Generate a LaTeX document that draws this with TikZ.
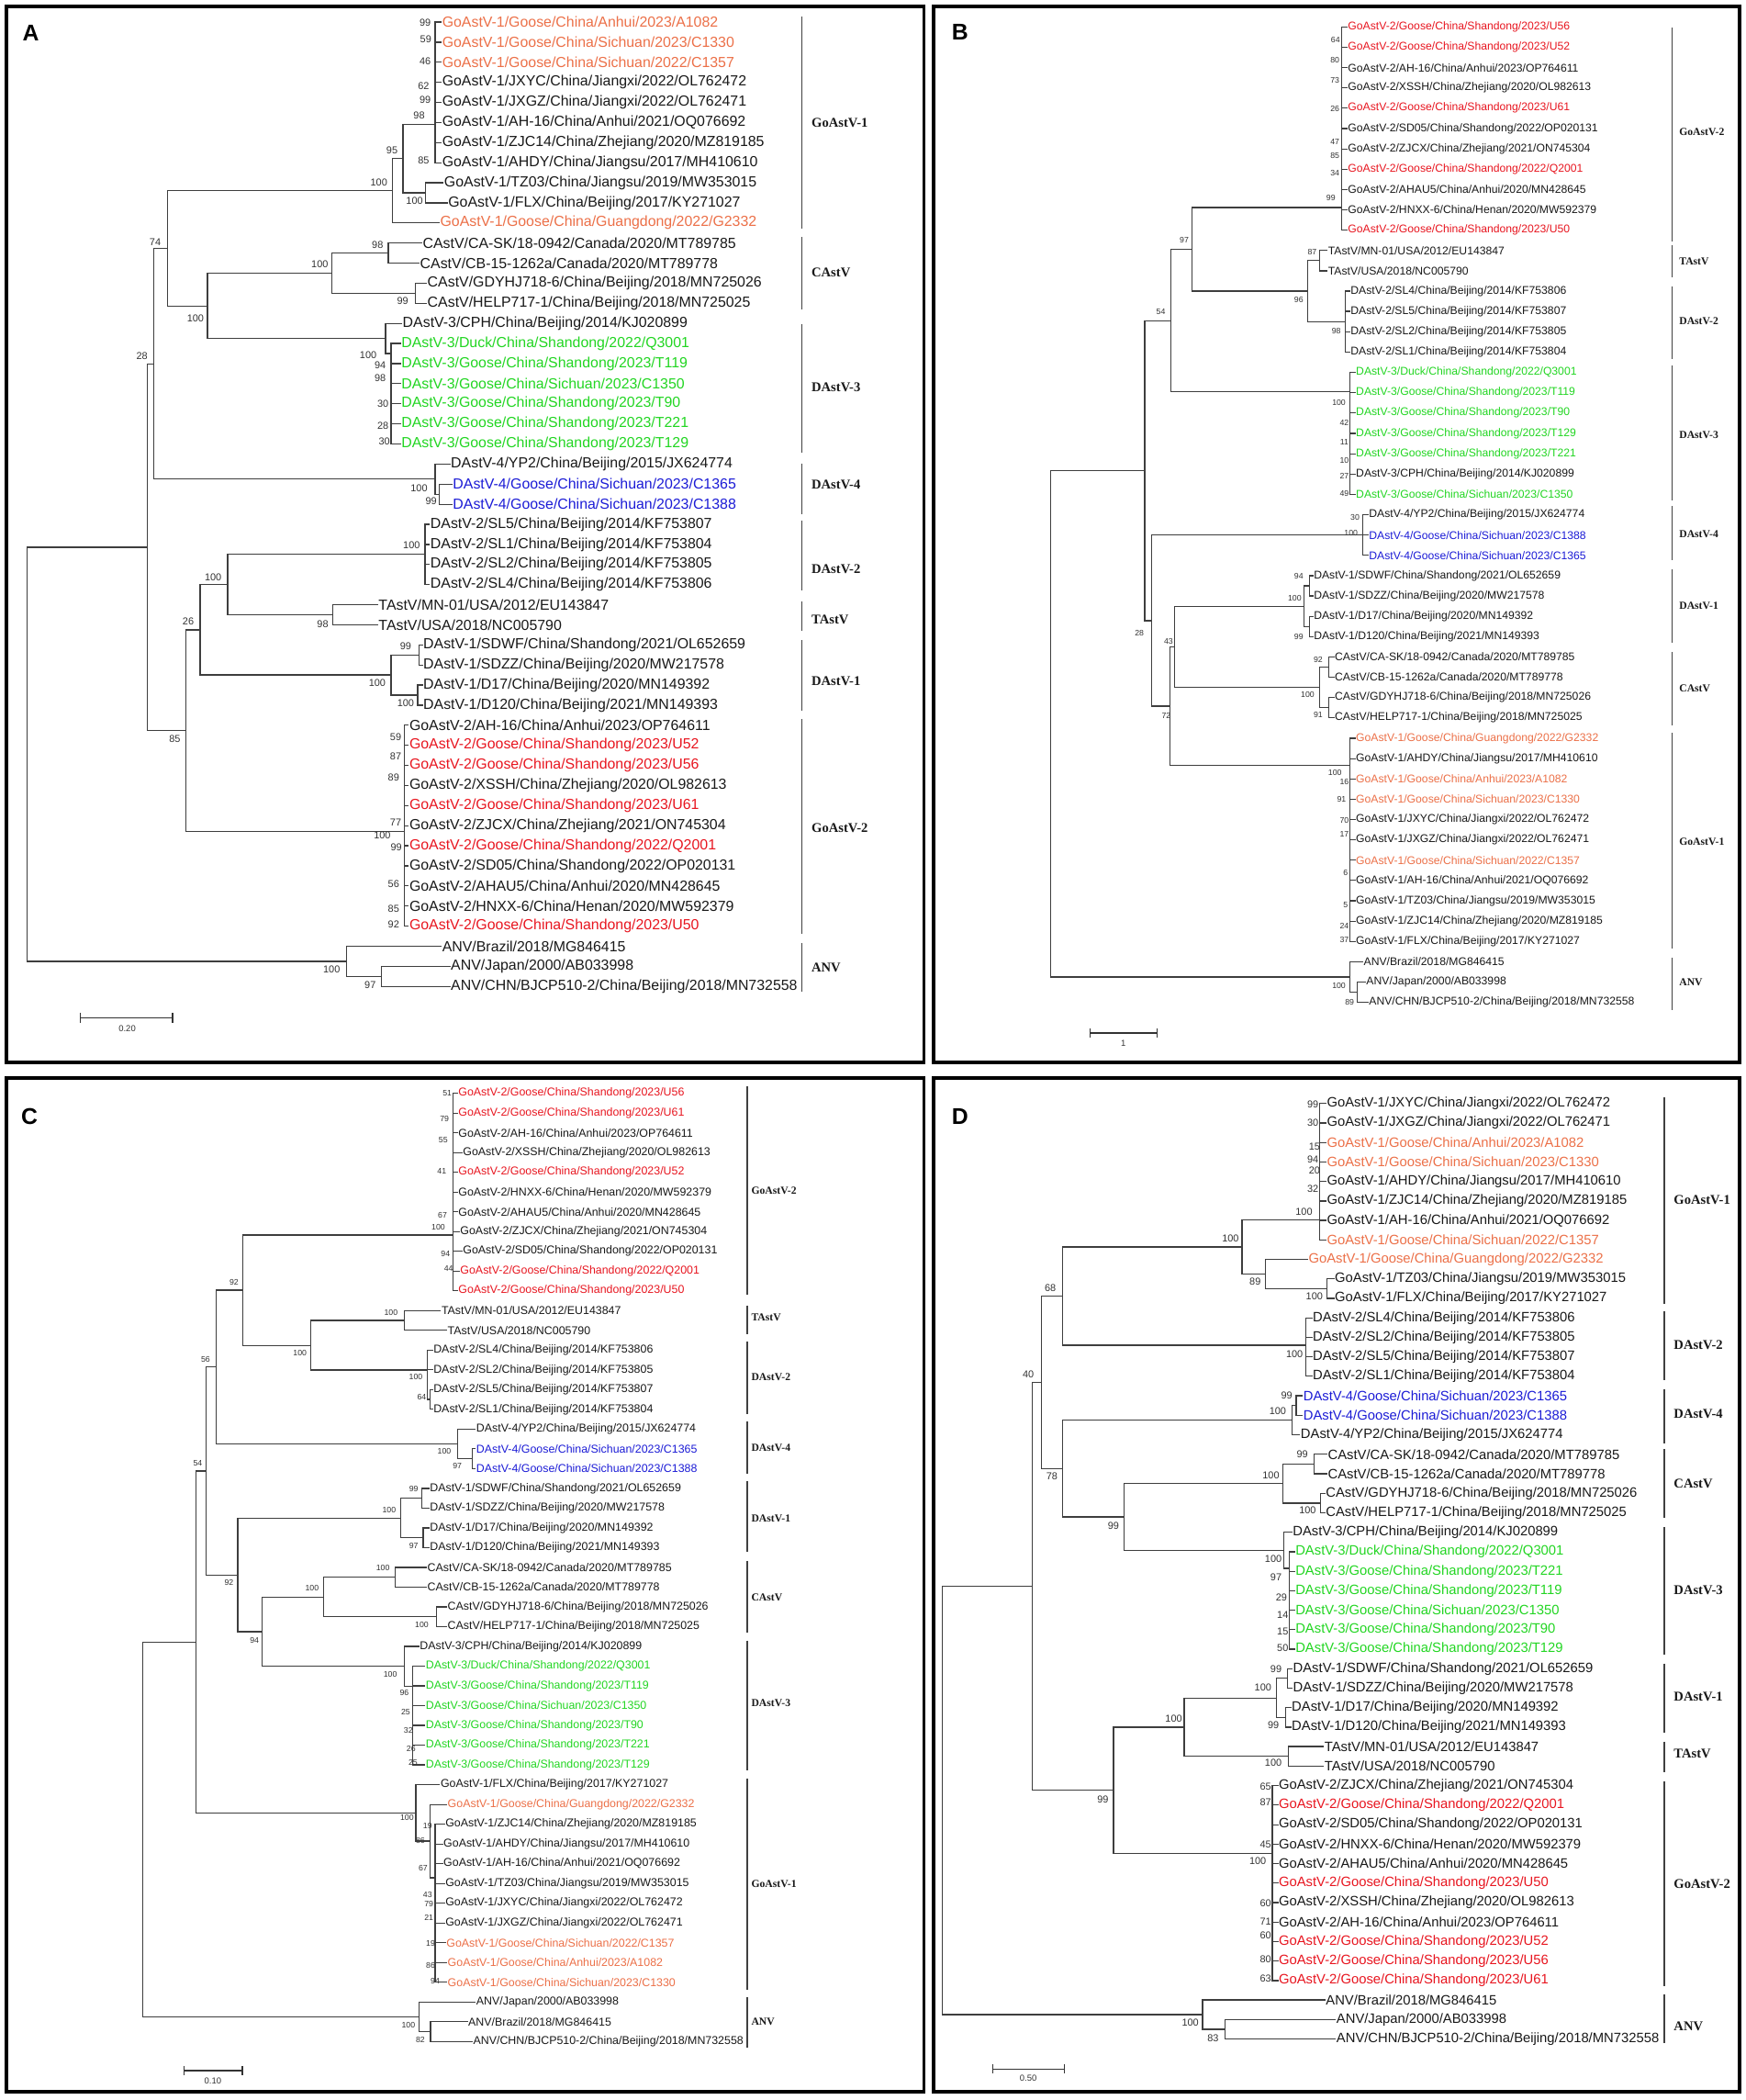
\documentclass[tikz,border=0pt]{standalone}
\usepackage{fontspec}
\setmainfont{Liberation Sans}
\newfontfamily\serifbf{Liberation Serif}
\definecolor{cOr}{RGB}{236,112,72}
\definecolor{cRd}{RGB}{232,22,32}
\definecolor{cGr}{RGB}{34,214,34}
\definecolor{cBl}{RGB}{28,28,214}
\definecolor{cK}{RGB}{25,25,25}
\definecolor{cLn}{RGB}{62,62,62}
\newcounter{bsc}
\newcommand\Vl[3]{\draw[br] (#1,#2) -- (#1,#3);}
\newcommand\Hl[3]{\draw[br] (#1,#3) -- (#2,#3);}
\newcommand\Lf[6]{\node[lf,text=#5] (#1) at (#3,#4) {#6};\draw[br] (#2,#4) -- (#1.west);}
\newcommand\Bs[3]{\stepcounter{bsc}\node[bsn] (bs\arabic{bsc}) at (#1,#2) {#3};}
\newcommand\Cl[7]{\draw[cbar] (#2,#3) -- (#2,#4);\node[cl] (#1) at (#5,#6) {#7};}
\tikzset{
 br/.style={draw=cLn, line width=0.85pt, line cap=rect},
 frm/.style={draw=black, line width=2.6pt},
 cbar/.style={draw=black!75, line width=0.9pt},
 lf/.style={anchor=west, inner xsep=0.6pt, inner ysep=0pt},
 bsn/.style={inner sep=0pt, text=black!80},
 cl/.style={anchor=west, inner sep=0pt, text=cK},
 plet/.style={inner sep=0pt, font=\bfseries\fontsize{17}{20}\selectfont},
 sb/.style={draw=black!80, line width=0.9pt},
 sbl/.style={inner sep=0pt, text=black!80, font=\fontsize{6.5}{7}\selectfont},
}
\begin{document}
\begin{tikzpicture}[x=1pt,y=-1pt]
\fill[white] (0,0) rectangle (1304,1568);
\useasboundingbox (0,0) rectangle (1304,1568);

%================ PANEL A ================
\begin{scope}[lf/.append style={font=\fontsize{10.9}{12}\selectfont},
 bsn/.append style={font=\fontsize{7.5}{8}\selectfont},
 cl/.append style={font=\serifbf\bfseries\fontsize{10}{12}\selectfont}]
\draw[frm] (5,5) rectangle (690,793);
\node[plet] (letA) at (23,25) {A};
% GoAstV-1
\Vl{325}{16.5}{121.5}
\Lf{a1}{325}{329.5}{16.5}{cOr}{GoAstV-1/Goose/China/Anhui/2023/A1082}
\Lf{a2}{325}{329.5}{31.5}{cOr}{GoAstV-1/Goose/China/Sichuan/2023/C1330}
\Lf{a3}{325}{329.5}{46.5}{cOr}{GoAstV-1/Goose/China/Sichuan/2022/C1357}
\Lf{a4}{325}{329.5}{61.5}{cK}{GoAstV-1/JXYC/China/Jiangxi/2022/OL762472}
\Lf{a5}{325}{329.5}{76.5}{cK}{GoAstV-1/JXGZ/China/Jiangxi/2022/OL762471}
\Lf{a6}{325}{329.5}{91.5}{cK}{GoAstV-1/AH-16/China/Anhui/2021/OQ076692}
\Lf{a7}{325}{329.5}{106.5}{cK}{GoAstV-1/ZJC14/China/Zhejiang/2020/MZ819185}
\Lf{a8}{325}{329.5}{121.5}{cK}{GoAstV-1/AHDY/China/Jiangsu/2017/MH410610}
\Vl{318}{136.5}{151.5}
\Lf{a9}{318}{331}{136.5}{cK}{GoAstV-1/TZ03/China/Jiangsu/2019/MW353015}
\Lf{a10}{318}{334}{151.5}{cK}{GoAstV-1/FLX/China/Beijing/2017/KY271027}
\Vl{301}{93}{144}\Hl{301}{325}{93}\Hl{301}{318}{144}
\Vl{293}{118.5}{166.5}\Hl{293}{301}{118.5}
\Lf{a11}{293}{328}{166.5}{cOr}{GoAstV-1/Goose/China/Guangdong/2022/G2332}
% CAstV
\Vl{290}{181.5}{196.5}
\Lf{a12}{290}{315}{181.5}{cK}{CAstV/CA-SK/18-0942/Canada/2020/MT789785}
\Lf{a13}{290}{313}{196.5}{cK}{CAstV/CB-15-1262a/Canada/2020/MT789778}
\Vl{310}{211.5}{226.5}
\Lf{a14}{310}{318.5}{211.5}{cK}{CAstV/GDYHJ718-6/China/Beijing/2018/MN725026}
\Lf{a15}{310}{318.5}{226.5}{cK}{CAstV/HELP717-1/China/Beijing/2018/MN725025}
\Vl{248}{189}{219}\Hl{248}{290}{189}\Hl{248}{310}{219}
% DAstV-3
\Vl{292}{256.5}{331.5}
\Lf{a17}{292}{299}{256.5}{cGr}{DAstV-3/Duck/China/Shandong/2022/Q3001}
\Lf{a18}{292}{299}{271.5}{cGr}{DAstV-3/Goose/China/Shandong/2023/T119}
\Lf{a19}{292}{299}{286.5}{cGr}{DAstV-3/Goose/China/Sichuan/2023/C1350}
\Lf{a20}{292}{299}{301.5}{cGr}{DAstV-3/Goose/China/Shandong/2023/T90}
\Lf{a21}{292}{299}{316.5}{cGr}{DAstV-3/Goose/China/Shandong/2023/T221}
\Lf{a22}{292}{299}{331.5}{cGr}{DAstV-3/Goose/China/Shandong/2023/T129}
\Vl{288}{241.5}{264}\Hl{288}{292}{264}
\Lf{a16}{288}{300}{241.5}{cK}{DAstV-3/CPH/China/Beijing/2014/KJ020899}
\Vl{155}{204}{252.75}\Hl{155}{248}{204}\Hl{155}{288}{252.75}
\Vl{125}{142.5}{228.4}\Hl{125}{293}{142.5}\Hl{125}{155}{228.4}
% DAstV-4
\Vl{328}{361.5}{376.5}
\Lf{a24}{328}{337.5}{361.5}{cBl}{DAstV-4/Goose/China/Sichuan/2023/C1365}
\Lf{a25}{328}{337.5}{376.5}{cBl}{DAstV-4/Goose/China/Sichuan/2023/C1388}
\Vl{325}{346.5}{369}\Hl{325}{328}{369}
\Lf{a23}{325}{336}{346.5}{cK}{DAstV-4/YP2/China/Beijing/2015/JX624774}
\Vl{115}{185.5}{357.75}\Hl{115}{125}{185.5}\Hl{115}{325}{357.75}
% DAstV-2
\Vl{317.5}{391.5}{436.5}
\Lf{a26}{317.5}{320.7}{391.5}{cK}{DAstV-2/SL5/China/Beijing/2014/KF753807}
\Lf{a27}{317.5}{320.7}{406.5}{cK}{DAstV-2/SL1/China/Beijing/2014/KF753804}
\Lf{a28}{317.5}{320.7}{421.5}{cK}{DAstV-2/SL2/China/Beijing/2014/KF753805}
\Lf{a29}{317.5}{320.7}{436.5}{cK}{DAstV-2/SL4/China/Beijing/2014/KF753806}
% TAstV
\Vl{248.5}{451.5}{466.5}
\Lf{a30}{248.5}{282}{451.5}{cK}{TAstV/MN-01/USA/2012/EU143847}
\Lf{a31}{248.5}{282}{466.5}{cK}{TAstV/USA/2018/NC005790}
\Vl{170}{414}{459}\Hl{170}{317.5}{414}\Hl{170}{248.5}{459}
% DAstV-1
\Vl{313}{481.5}{496.5}
\Lf{a32}{313}{315.4}{481.5}{cK}{DAstV-1/SDWF/China/Shandong/2021/OL652659}
\Lf{a33}{313}{315.4}{496.5}{cK}{DAstV-1/SDZZ/China/Beijing/2020/MW217578}
\Vl{312}{511.5}{526.5}
\Lf{a34}{312}{315.4}{511.5}{cK}{DAstV-1/D17/China/Beijing/2020/MN149392}
\Lf{a35}{312}{315.4}{526.5}{cK}{DAstV-1/D120/China/Beijing/2021/MN149393}
\Vl{292}{489}{519}\Hl{292}{313}{489}\Hl{292}{312}{519}
\Vl{149.5}{436.5}{504}\Hl{149.5}{170}{436.5}\Hl{149.5}{292}{504}
% GoAstV-2
\Vl{302}{541.5}{691.5}
\Lf{a36}{302}{305}{541.5}{cK}{GoAstV-2/AH-16/China/Anhui/2023/OP764611}
\Lf{a37}{302}{305}{556.5}{cRd}{GoAstV-2/Goose/China/Shandong/2023/U52}
\Lf{a38}{302}{305}{571.5}{cRd}{GoAstV-2/Goose/China/Shandong/2023/U56}
\Lf{a39}{302}{305}{586.5}{cK}{GoAstV-2/XSSH/China/Zhejiang/2020/OL982613}
\Lf{a40}{302}{305}{601.5}{cRd}{GoAstV-2/Goose/China/Shandong/2023/U61}
\Lf{a41}{302}{305}{616.5}{cK}{GoAstV-2/ZJCX/China/Zhejiang/2021/ON745304}
\Lf{a42}{302}{305}{631.5}{cRd}{GoAstV-2/Goose/China/Shandong/2022/Q2001}
\Lf{a43}{302}{305}{646.5}{cK}{GoAstV-2/SD05/China/Shandong/2022/OP020131}
\Lf{a44}{302}{305}{661.5}{cK}{GoAstV-2/AHAU5/China/Anhui/2020/MN428645}
\Lf{a45}{302}{305}{676.5}{cK}{GoAstV-2/HNXX-6/China/Henan/2020/MW592379}
\Lf{a46}{302}{305}{691.5}{cRd}{GoAstV-2/Goose/China/Shandong/2023/U50}
\Vl{139}{470.25}{621}\Hl{139}{149.5}{470.25}\Hl{139}{302}{621}
\Vl{110}{271.6}{545.6}\Hl{110}{115}{271.6}\Hl{110}{139}{545.6}
% ANV
\Vl{285}{721.5}{736.5}
\Lf{a48}{285}{336}{721.5}{cK}{ANV/Japan/2000/AB033998}
\Lf{a49}{285}{336}{736.5}{cK}{ANV/CHN/BJCP510-2/China/Beijing/2018/MN732558}
\Vl{259}{706.5}{729}\Hl{259}{285}{729}
\Lf{a47}{259}{329.5}{706.5}{cK}{ANV/Brazil/2018/MG846415}
\Vl{20}{408.6}{717.75}\Hl{20}{110}{408.6}\Hl{20}{259}{717.75}
% bootstraps
\Bs{317.6}{17.1}{99}\Bs{318}{29}{59}\Bs{317.6}{45.7}{46}\Bs{316.3}{64}{62}\Bs{317.6}{74.3}{99}
\Bs{313}{86.4}{98}\Bs{316.3}{120}{85}\Bs{292.8}{112}{95}\Bs{283}{136.4}{100}\Bs{309.6}{149.7}{100}
\Bs{282}{182.8}{98}\Bs{238.8}{197}{100}\Bs{300.7}{225}{99}\Bs{115.9}{180.5}{74}\Bs{146}{237.7}{100}\Bs{106}{266}{28}
\Bs{275}{265}{100}\Bs{284}{273}{94}\Bs{284}{282.3}{98}\Bs{286}{301.7}{30}\Bs{286}{317.7}{28}\Bs{287}{329.6}{30}
\Bs{313}{364.5}{100}\Bs{322}{374.4}{99}
\Bs{307.4}{407.3}{100}\Bs{241}{465.8}{98}\Bs{159.2}{430.8}{100}\Bs{140.6}{464}{26}
\Bs{303}{482.2}{99}\Bs{281.7}{510}{100}\Bs{303}{525}{100}\Bs{130.5}{552}{85}
\Bs{295.5}{550.3}{59}\Bs{295.5}{564.5}{87}\Bs{294}{580.5}{89}\Bs{295.5}{614}{77}\Bs{285.5}{623.5}{100}
\Bs{296}{632.5}{99}\Bs{294}{660}{56}\Bs{294}{678.3}{85}\Bs{294}{690.2}{92}
\Bs{247.7}{724}{100}\Bs{276.5}{735.4}{97}
% clades
\Cl{kA1}{599}{12.6}{171}{606}{91.4}{GoAstV-1}
\Cl{kA2}{599}{177}{231}{606}{203.4}{CAstV}
\Cl{kA3}{599}{242}{338}{606}{289}{DAstV-3}
\Cl{kA4}{599}{346}{384}{606}{362.2}{DAstV-4}
\Cl{kA5}{599}{388.5}{441}{606}{424.6}{DAstV-2}
\Cl{kA6}{599}{449}{471}{606}{462.8}{TAstV}
\Cl{kA7}{599}{478}{531}{606}{508.5}{DAstV-1}
\Cl{kA8}{599}{537}{697}{606}{618.2}{GoAstV-2}
\Cl{kA9}{599}{704}{740.5}{606}{722.2}{ANV}
% scale
\draw[sb] (60,760) -- (129,760);\draw[sb] (60,756.5) -- (60,763.5);\draw[sb] (129,756.5) -- (129,763.5);
\node[sbl] (sA) at (95,768) {0.20};
\end{scope}

%================ PANEL B ================
\begin{scope}[lf/.append style={font=\fontsize{8.35}{10}\selectfont},
 bsn/.append style={font=\fontsize{6}{7}\selectfont},
 cl/.append style={font=\serifbf\bfseries\fontsize{8}{10}\selectfont}]
\draw[frm] (697,5) rectangle (1299,793);
\node[plet] (letB) at (717,24) {B};
% GoAstV-2
\Vl{1002}{20.1}{171.9}\Hl{890.4}{1002}{155}
\Lf{b1}{1002}{1006}{20.1}{cRd}{GoAstV-2/Goose/China/Shandong/2023/U56}
\Lf{b2}{1002}{1006}{35.3}{cRd}{GoAstV-2/Goose/China/Shandong/2023/U52}
\Lf{b3}{1002}{1006}{50.5}{cK}{GoAstV-2/AH-16/China/Anhui/2023/OP764611}
\Lf{b4}{1002}{1006}{65.6}{cK}{GoAstV-2/XSSH/China/Zhejiang/2020/OL982613}
\Lf{b5}{1002}{1006}{80.8}{cRd}{GoAstV-2/Goose/China/Shandong/2023/U61}
\Lf{b6}{1002}{1006}{96.0}{cK}{GoAstV-2/SD05/China/Shandong/2022/OP020131}
\Lf{b7}{1002}{1006}{111.2}{cK}{GoAstV-2/ZJCX/China/Zhejiang/2021/ON745304}
\Lf{b8}{1002}{1006}{126.3}{cRd}{GoAstV-2/Goose/China/Shandong/2022/Q2001}
\Lf{b9}{1002}{1006}{141.5}{cK}{GoAstV-2/AHAU5/China/Anhui/2020/MN428645}
\Lf{b10}{1002}{1006}{156.7}{cK}{GoAstV-2/HNXX-6/China/Henan/2020/MW592379}
\Lf{b11}{1002}{1006}{171.9}{cRd}{GoAstV-2/Goose/China/Shandong/2023/U50}
% TAstV
\Vl{985.6}{187.0}{202.2}
\Lf{b12}{985.6}{991.2}{187.0}{cK}{TAstV/MN-01/USA/2012/EU143847}
\Lf{b13}{985.6}{991.2}{202.2}{cK}{TAstV/USA/2018/NC005790}
% DAstV-2
\Vl{1005}{217.4}{262.9}
\Lf{b14}{1005}{1008}{217.4}{cK}{DAstV-2/SL4/China/Beijing/2014/KF753806}
\Lf{b15}{1005}{1008}{232.5}{cK}{DAstV-2/SL5/China/Beijing/2014/KF753807}
\Lf{b16}{1005}{1008}{247.7}{cK}{DAstV-2/SL2/China/Beijing/2014/KF753805}
\Lf{b17}{1005}{1008}{262.9}{cK}{DAstV-2/SL1/China/Beijing/2014/KF753804}
\Vl{976.6}{194.6}{240.2}\Hl{976.6}{985.6}{194.6}\Hl{976.6}{1005}{240.2}
\Vl{890.4}{155}{217.4}\Hl{890.4}{976.6}{217.4}
% DAstV-3
\Vl{1008}{278.1}{369.1}
\Lf{b18}{1008}{1012}{278.1}{cGr}{DAstV-3/Duck/China/Shandong/2022/Q3001}
\Lf{b19}{1008}{1012}{293.2}{cGr}{DAstV-3/Goose/China/Shandong/2023/T119}
\Lf{b20}{1008}{1012}{308.4}{cGr}{DAstV-3/Goose/China/Shandong/2023/T90}
\Lf{b21}{1008}{1012}{323.6}{cGr}{DAstV-3/Goose/China/Shandong/2023/T129}
\Lf{b22}{1008}{1012}{338.8}{cGr}{DAstV-3/Goose/China/Shandong/2023/T221}
\Lf{b23}{1008}{1012}{354.0}{cK}{DAstV-3/CPH/China/Beijing/2014/KJ020899}
\Lf{b24}{1008}{1012}{369.1}{cGr}{DAstV-3/Goose/China/Sichuan/2023/C1350}
\Vl{874.7}{186.2}{292.5}\Hl{874.7}{890.4}{186.2}\Hl{874.7}{1008}{292.5}
% DAstV-4
\Vl{1018}{384.3}{414.6}
\Lf{b25}{1018}{1021.7}{384.3}{cK}{DAstV-4/YP2/China/Beijing/2015/JX624774}
\Lf{b26}{1018}{1021.7}{399.5}{cBl}{DAstV-4/Goose/China/Sichuan/2023/C1388}
\Lf{b27}{1018}{1021.7}{414.6}{cBl}{DAstV-4/Goose/China/Sichuan/2023/C1365}
% DAstV-1
\Vl{978}{429.8}{445.0}\Vl{978}{460.2}{475.3}
\Vl{974}{437.4}{467.7}\Hl{974}{978}{437.4}\Hl{974}{978}{467.7}
\Lf{b28}{978}{980.5}{429.8}{cK}{DAstV-1/SDWF/China/Shandong/2021/OL652659}
\Lf{b29}{978}{980.5}{445.0}{cK}{DAstV-1/SDZZ/China/Beijing/2020/MW217578}
\Lf{b30}{978}{980.5}{460.2}{cK}{DAstV-1/D17/China/Beijing/2020/MN149392}
\Lf{b31}{978}{980.5}{475.3}{cK}{DAstV-1/D120/China/Beijing/2021/MN149393}
% CAstV
\Vl{992.3}{490.5}{505.7}\Vl{992.3}{520.9}{536.0}
\Vl{985.6}{498.1}{528.4}\Hl{985.6}{992.3}{498.1}\Hl{985.6}{992.3}{528.4}
\Lf{b32}{992.3}{996.2}{490.5}{cK}{CAstV/CA-SK/18-0942/Canada/2020/MT789785}
\Lf{b33}{992.3}{996.2}{505.7}{cK}{CAstV/CB-15-1262a/Canada/2020/MT789778}
\Lf{b34}{992.3}{996.2}{520.9}{cK}{CAstV/GDYHJ718-6/China/Beijing/2018/MN725026}
\Lf{b35}{992.3}{996.2}{536.0}{cK}{CAstV/HELP717-1/China/Beijing/2018/MN725025}
\Vl{877}{452.6}{513.3}\Hl{877}{974}{452.6}\Hl{877}{985.6}{513.3}
% GoAstV-1
\Vl{1008}{551.2}{702.9}
\Lf{b36}{1008}{1012}{551.2}{cOr}{GoAstV-1/Goose/China/Guangdong/2022/G2332}
\Lf{b37}{1008}{1012}{566.4}{cK}{GoAstV-1/AHDY/China/Jiangsu/2017/MH410610}
\Lf{b38}{1008}{1012}{581.6}{cOr}{GoAstV-1/Goose/China/Anhui/2023/A1082}
\Lf{b39}{1008}{1012}{596.7}{cOr}{GoAstV-1/Goose/China/Sichuan/2023/C1330}
\Lf{b40}{1008}{1012}{611.9}{cK}{GoAstV-1/JXYC/China/Jiangxi/2022/OL762472}
\Lf{b41}{1008}{1012}{627.1}{cK}{GoAstV-1/JXGZ/China/Jiangxi/2022/OL762471}
\Lf{b42}{1008}{1012}{642.3}{cOr}{GoAstV-1/Goose/China/Sichuan/2022/C1357}
\Lf{b43}{1008}{1012}{657.4}{cK}{GoAstV-1/AH-16/China/Anhui/2021/OQ076692}
\Lf{b44}{1008}{1012}{672.6}{cK}{GoAstV-1/TZ03/China/Jiangsu/2019/MW353015}
\Lf{b45}{1008}{1012}{687.8}{cK}{GoAstV-1/ZJC14/China/Zhejiang/2020/MZ819185}
\Lf{b46}{1008}{1012}{702.9}{cK}{GoAstV-1/FLX/China/Beijing/2017/KY271027}
\Vl{874}{483}{571.4}\Hl{874}{877}{483}\Hl{874}{1008}{571.4}
\Vl{860}{399.5}{527.2}\Hl{860}{1018}{399.5}\Hl{860}{874}{527.2}
\Vl{855}{239.4}{463.4}\Hl{855}{874.7}{239.4}\Hl{855}{860}{463.4}
% ANV
\Vl{1013.8}{733.3}{748.5}\Vl{1008}{718.1}{740.9}\Hl{1008}{1013.8}{740.9}
\Lf{b47}{1008}{1017.8}{718.1}{cK}{ANV/Brazil/2018/MG846415}
\Lf{b48}{1013.8}{1019.7}{733.3}{cK}{ANV/Japan/2000/AB033998}
\Lf{b49}{1013.8}{1021.7}{748.5}{cK}{ANV/CHN/BJCP510-2/China/Beijing/2018/MN732558}
\Vl{784.5}{351.4}{729.5}\Hl{784.5}{855}{351.4}\Hl{784.5}{1008}{729.5}
% bootstraps
\Bs{997.4}{29.7}{64}\Bs{997}{44.6}{80}\Bs{997}{59.9}{73}\Bs{997}{81}{26}\Bs{997}{106}{47}
\Bs{997}{116}{85}\Bs{997}{129}{34}\Bs{994}{148}{99}
\Bs{884.5}{179.4}{97}\Bs{980}{188.5}{87}\Bs{970}{224}{96}\Bs{998}{247}{98}\Bs{867}{233}{54}
\Bs{1000}{300.5}{100}\Bs{1004}{315.4}{42}\Bs{1004}{330}{11}\Bs{1004}{344}{10}\Bs{1004}{355.4}{27}\Bs{1004}{368.4}{49}
\Bs{1012}{386}{30}\Bs{1009}{398}{100}
\Bs{851}{472.4}{28}
\Bs{970}{430}{94}\Bs{967}{446.8}{100}\Bs{970}{475.4}{99}
\Bs{872.7}{478.8}{43}
\Bs{984.5}{492.5}{92}\Bs{976.6}{518.8}{100}\Bs{984.5}{533.6}{91}
\Bs{871}{534.3}{72}
\Bs{997}{577}{100}\Bs{1004}{584}{16}\Bs{1002}{597}{91}\Bs{1004}{612.5}{70}\Bs{1004}{622.8}{17}
\Bs{1005}{651.4}{6}\Bs{1005}{676}{5}\Bs{1004}{691.3}{24}\Bs{1004}{701.6}{37}
\Bs{1000}{736}{100}\Bs{1008}{748.5}{89}
% clades
\Cl{kB1}{1249}{20.6}{180.5}{1254}{98.3}{GoAstV-2}
\Cl{kB2}{1249}{183}{207}{1254}{195.4}{TAstV}
\Cl{kB3}{1249}{213.7}{268}{1254}{240}{DAstV-2}
\Cl{kB4}{1249}{273}{373.7}{1254}{324.5}{DAstV-3}
\Cl{kB5}{1249}{378}{418.2}{1254}{398.8}{DAstV-4}
\Cl{kB6}{1249}{425}{480}{1254}{452.5}{DAstV-1}
\Cl{kB7}{1249}{486.8}{541.7}{1254}{514}{CAstV}
\Cl{kB8}{1249}{547.4}{708.5}{1254}{628.5}{GoAstV-1}
\Cl{kB9}{1249}{715.3}{754.2}{1254}{733.6}{ANV}
% scale
\draw[sb] (814,771.4) -- (864,771.4);\draw[sb] (814,768) -- (814,775);\draw[sb] (864,768) -- (864,775);
\node[sbl] (sB) at (839,779) {1};
\end{scope}

%================ PANEL C ================
\begin{scope}[lf/.append style={font=\fontsize{8.5}{10}\selectfont},
 bsn/.append style={font=\fontsize{6}{7}\selectfont},
 cl/.append style={font=\serifbf\bfseries\fontsize{8}{10}\selectfont}]
\draw[frm] (5,805) rectangle (690,1562);
\node[plet] (letC) at (22,834) {C};
% GoAstV-2
\Vl{338.5}{816.3}{963.8}\Hl{181.4}{338.5}{922.1}
\Lf{c1}{338.5}{341.6}{816.3}{cRd}{GoAstV-2/Goose/China/Shandong/2023/U56}
\Lf{c2}{338.5}{341.6}{831.05}{cRd}{GoAstV-2/Goose/China/Shandong/2023/U61}
\Lf{c3}{338.5}{341.6}{845.8}{cK}{GoAstV-2/AH-16/China/Anhui/2023/OP764611}
\Lf{c4}{338.5}{345}{860.55}{cK}{GoAstV-2/XSSH/China/Zhejiang/2020/OL982613}
\Lf{c5}{338.5}{341.6}{875.3}{cRd}{GoAstV-2/Goose/China/Shandong/2023/U52}
\Lf{c6}{338.5}{341.6}{890.05}{cK}{GoAstV-2/HNXX-6/China/Henan/2020/MW592379}
\Lf{c7}{338.5}{341.6}{904.8}{cK}{GoAstV-2/AHAU5/China/Anhui/2020/MN428645}
\Lf{c8}{338.5}{343}{919.55}{cK}{GoAstV-2/ZJCX/China/Zhejiang/2021/ON745304}
\Lf{c9}{338.5}{345}{934.3}{cK}{GoAstV-2/SD05/China/Shandong/2022/OP020131}
\Lf{c10}{338.5}{343}{949.05}{cRd}{GoAstV-2/Goose/China/Shandong/2022/Q2001}
\Lf{c11}{338.5}{341.6}{963.8}{cRd}{GoAstV-2/Goose/China/Shandong/2023/U50}
% TAstV
\Vl{302}{978.55}{993.3}
\Lf{c12}{302}{329}{978.55}{cK}{TAstV/MN-01/USA/2012/EU143847}
\Lf{c13}{302}{333.6}{993.3}{cK}{TAstV/USA/2018/NC005790}
% DAstV-2
\Vl{321}{1037.55}{1052.3}\Vl{319.4}{1008.05}{1044.9}\Hl{319.4}{321}{1044.9}
\Lf{c14}{319.4}{323}{1008.05}{cK}{DAstV-2/SL4/China/Beijing/2014/KF753806}
\Lf{c15}{319.4}{323}{1022.8}{cK}{DAstV-2/SL2/China/Beijing/2014/KF753805}
\Lf{c16}{321}{323}{1037.55}{cK}{DAstV-2/SL5/China/Beijing/2014/KF753807}
\Lf{c17}{321}{323}{1052.3}{cK}{DAstV-2/SL1/China/Beijing/2014/KF753804}
\Vl{232.3}{985.9}{1023}\Hl{232.3}{302}{985.9}\Hl{232.3}{319.4}{1023}
\Vl{181.4}{922.1}{1004.5}\Hl{181.4}{232.3}{1004.5}
% DAstV-4
\Vl{352.7}{1081.8}{1096.55}\Vl{341.6}{1067.05}{1089.2}\Hl{341.6}{352.7}{1089.2}
\Lf{c18}{341.6}{355}{1067.05}{cK}{DAstV-4/YP2/China/Beijing/2015/JX624774}
\Lf{c19}{352.7}{355}{1081.8}{cBl}{DAstV-4/Goose/China/Sichuan/2023/C1365}
\Lf{c20}{352.7}{355}{1096.55}{cBl}{DAstV-4/Goose/China/Sichuan/2023/C1388}
\Vl{161.5}{963.3}{1078.1}\Hl{161.5}{181.4}{963.3}\Hl{161.5}{341.6}{1078.1}
% DAstV-1
\Vl{315}{1111.3}{1126.05}\Vl{316}{1140.8}{1155.55}
\Vl{299.5}{1118.7}{1148.2}\Hl{299.5}{315}{1118.7}\Hl{299.5}{316}{1148.2}
\Lf{c21}{315}{320.3}{1111.3}{cK}{DAstV-1/SDWF/China/Shandong/2021/OL652659}
\Lf{c22}{315}{320.3}{1126.05}{cK}{DAstV-1/SDZZ/China/Beijing/2020/MW217578}
\Lf{c23}{316}{320.3}{1140.8}{cK}{DAstV-1/D17/China/Beijing/2020/MN149392}
\Lf{c24}{316}{320.3}{1155.55}{cK}{DAstV-1/D120/China/Beijing/2021/MN149393}
% CAstV
\Vl{295}{1170.3}{1185.05}\Vl{326}{1199.8}{1214.55}
\Vl{241.8}{1177.7}{1207.2}\Hl{241.8}{295}{1177.7}\Hl{241.8}{326}{1207.2}
\Lf{c25}{295}{318.5}{1170.3}{cK}{CAstV/CA-SK/18-0942/Canada/2020/MT789785}
\Lf{c26}{295}{318.5}{1185.05}{cK}{CAstV/CB-15-1262a/Canada/2020/MT789778}
\Lf{c27}{326}{333.6}{1199.8}{cK}{CAstV/GDYHJ718-6/China/Beijing/2018/MN725026}
\Lf{c28}{326}{333.6}{1214.55}{cK}{CAstV/HELP717-1/China/Beijing/2018/MN725025}
% DAstV-3
\Vl{308.3}{1244.05}{1317.8}\Vl{302}{1229.3}{1259}\Hl{302}{308.3}{1259}
\Lf{c29}{302}{312.8}{1229.3}{cK}{DAstV-3/CPH/China/Beijing/2014/KJ020899}
\Lf{c30}{308.3}{317.2}{1244.05}{cGr}{DAstV-3/Duck/China/Shandong/2022/Q3001}
\Lf{c31}{308.3}{317.2}{1258.8}{cGr}{DAstV-3/Goose/China/Shandong/2023/T119}
\Lf{c32}{308.3}{317.2}{1273.55}{cGr}{DAstV-3/Goose/China/Sichuan/2023/C1350}
\Lf{c33}{308.3}{317.2}{1288.3}{cGr}{DAstV-3/Goose/China/Shandong/2023/T90}
\Lf{c34}{308.3}{317.2}{1303.05}{cGr}{DAstV-3/Goose/China/Shandong/2023/T221}
\Lf{c35}{308.3}{317.2}{1317.8}{cGr}{DAstV-3/Goose/China/Shandong/2023/T129}
\Vl{196}{1192.4}{1244.2}\Hl{196}{241.8}{1192.4}\Hl{196}{302}{1244.2}
\Vl{177.5}{1133.45}{1218.3}\Hl{177.5}{299.5}{1133.45}\Hl{177.5}{196}{1218.3}
\Vl{154}{1020.7}{1175.9}\Hl{154}{161.5}{1020.7}\Hl{154}{177.5}{1175.9}
% GoAstV-1
\Vl{325}{1362.05}{1480.05}\Vl{321}{1347.3}{1402}\Hl{321}{325}{1402}
\Vl{310.6}{1332.55}{1374.65}\Hl{310.6}{321}{1374.65}
\Lf{c36}{310.6}{328.3}{1332.55}{cK}{GoAstV-1/FLX/China/Beijing/2017/KY271027}
\Lf{c37}{321}{333.6}{1347.3}{cOr}{GoAstV-1/Goose/China/Guangdong/2022/G2332}
\Lf{c38}{325}{331.9}{1362.05}{cK}{GoAstV-1/ZJC14/China/Zhejiang/2020/MZ819185}
\Lf{c39}{325}{330.5}{1376.8}{cK}{GoAstV-1/AHDY/China/Jiangsu/2017/MH410610}
\Lf{c40}{325}{330.5}{1391.55}{cK}{GoAstV-1/AH-16/China/Anhui/2021/OQ076692}
\Lf{c41}{325}{331.9}{1406.3}{cK}{GoAstV-1/TZ03/China/Jiangsu/2019/MW353015}
\Lf{c42}{325}{331.9}{1421.05}{cK}{GoAstV-1/JXYC/China/Jiangxi/2022/OL762472}
\Lf{c43}{325}{331.9}{1435.8}{cK}{GoAstV-1/JXGZ/China/Jiangxi/2022/OL762471}
\Lf{c44}{325}{332.7}{1450.55}{cOr}{GoAstV-1/Goose/China/Sichuan/2022/C1357}
\Lf{c45}{325}{333.6}{1465.3}{cOr}{GoAstV-1/Goose/China/Anhui/2023/A1082}
\Lf{c46}{325}{333.6}{1480.05}{cOr}{GoAstV-1/Goose/China/Sichuan/2023/C1330}
\Vl{146.4}{1098.3}{1353.6}\Hl{146.4}{154}{1098.3}\Hl{146.4}{310.6}{1353.6}
% ANV
\Vl{321.6}{1509.55}{1524.3}\Vl{312.8}{1494.8}{1516.9}\Hl{312.8}{321.6}{1516.9}
\Lf{c47}{312.8}{355}{1494.8}{cK}{ANV/Japan/2000/AB033998}
\Lf{c48}{321.6}{349}{1509.55}{cK}{ANV/Brazil/2018/MG846415}
\Lf{c49}{321.6}{352.7}{1524.3}{cK}{ANV/CHN/BJCP510-2/China/Beijing/2018/MN732558}
\Vl{106.5}{1226}{1505.9}\Hl{106.5}{146.4}{1226}\Hl{106.5}{312.8}{1505.9}
% bootstraps
\Bs{334}{816.3}{51}\Bs{332}{835.3}{79}\Bs{331}{851.3}{55}\Bs{330}{874.8}{41}\Bs{330.5}{907.3}{67}
\Bs{327.4}{916.4}{100}\Bs{332.7}{936.5}{94}\Bs{335}{947.3}{44}
\Bs{174.8}{957.5}{92}\Bs{292}{980}{100}\Bs{224}{1010}{100}\Bs{310.6}{1028.4}{100}\Bs{315}{1043}{64}\Bs{153.5}{1014.7}{56}
\Bs{331.8}{1083.7}{100}\Bs{341.6}{1094.7}{97}\Bs{147.7}{1092.4}{54}
\Bs{309}{1111.8}{99}\Bs{290.6}{1127.8}{100}\Bs{309}{1154.5}{97}\Bs{171}{1181.5}{92}
\Bs{286}{1171}{100}\Bs{233}{1186}{100}\Bs{315}{1213.5}{100}\Bs{190}{1225}{94}
\Bs{291.5}{1250}{100}\Bs{302}{1264.2}{96}\Bs{303}{1278.6}{25}\Bs{305}{1292.3}{32}\Bs{307}{1306}{26}\Bs{308.5}{1316.3}{25}
\Bs{304}{1357}{100}\Bs{319.4}{1363.1}{19}\Bs{314}{1374.6}{86}\Bs{316}{1395.1}{67}\Bs{319.4}{1414.6}{43}
\Bs{320.3}{1421.9}{79}\Bs{320.3}{1431.7}{21}\Bs{321.6}{1451.1}{19}\Bs{321.6}{1467.6}{86}\Bs{325}{1479}{94}
\Bs{305}{1512}{100}\Bs{314}{1523}{82}
% clades
\Cl{kC1}{558}{811.3}{966.7}{561}{889}{GoAstV-2}
\Cl{kC2}{558}{974.7}{996.4}{561}{984}{TAstV}
\Cl{kC3}{558}{1002}{1055.8}{561}{1028.4}{DAstV-2}
\Cl{kC4}{558}{1061.5}{1100.4}{561}{1081}{DAstV-4}
\Cl{kC5}{558}{1106}{1158.6}{561}{1133.5}{DAstV-1}
\Cl{kC6}{558}{1165.5}{1219}{561}{1193}{CAstV}
\Cl{kC7}{558}{1225}{1322}{561}{1271.8}{DAstV-3}
\Cl{kC8}{558}{1327.7}{1485.4}{561}{1406.6}{GoAstV-1}
\Cl{kC9}{558}{1491}{1528.8}{561}{1509.4}{ANV}
% scale
\draw[sb] (137.5,1546) -- (181,1546);\draw[sb] (137.5,1542.5) -- (137.5,1549.5);\draw[sb] (181,1542.5) -- (181,1549.5);
\node[sbl] (sC) at (159,1554) {0.10};
\end{scope}

%================ PANEL D ================
\begin{scope}[lf/.append style={font=\fontsize{10.15}{12}\selectfont},
 bsn/.append style={font=\fontsize{7.5}{8}\selectfont},
 cl/.append style={font=\serifbf\bfseries\fontsize{10}{12}\selectfont}]
\draw[frm] (697,805) rectangle (1299,1562);
\node[plet] (letD) at (717,834) {D};
% GoAstV-1
\Vl{985.6}{823.9}{925.8}
\Lf{d1}{985.6}{990.3}{823.9}{cK}{GoAstV-1/JXYC/China/Jiangxi/2022/OL762472}
\Lf{d2}{985.6}{990.3}{838.45}{cK}{GoAstV-1/JXGZ/China/Jiangxi/2022/OL762471}
\Lf{d3}{985.6}{990.3}{853.0}{cOr}{GoAstV-1/Goose/China/Anhui/2023/A1082}
\Lf{d4}{985.6}{990.3}{867.6}{cOr}{GoAstV-1/Goose/China/Sichuan/2023/C1330}
\Lf{d5}{985.6}{990.3}{882.1}{cK}{GoAstV-1/AHDY/China/Jiangsu/2017/MH410610}
\Lf{d6}{985.6}{990.3}{896.7}{cK}{GoAstV-1/ZJC14/China/Zhejiang/2020/MZ819185}
\Lf{d7}{985.6}{990.3}{911.2}{cK}{GoAstV-1/AH-16/China/Anhui/2021/OQ076692}
\Lf{d8}{985.6}{990.3}{925.8}{cOr}{GoAstV-1/Goose/China/Sichuan/2022/C1357}
\Vl{991.1}{954.9}{969.4}
\Lf{d10}{991.1}{996.2}{954.9}{cK}{GoAstV-1/TZ03/China/Jiangsu/2019/MW353015}
\Lf{d11}{991.1}{996.2}{969.4}{cK}{GoAstV-1/FLX/China/Beijing/2017/KY271027}
\Vl{945.2}{940.3}{962.2}\Hl{945.2}{991.1}{962.2}
\Lf{d9}{945.2}{976.6}{940.3}{cOr}{GoAstV-1/Goose/China/Guangdong/2022/G2332}
\Vl{927.6}{910.7}{951.2}\Hl{927.6}{985.6}{910.7}\Hl{927.6}{945.2}{951.2}
% DAstV-2
\Vl{975.4}{984.0}{1027.6}
\Lf{d12}{975.4}{979.7}{984.0}{cK}{DAstV-2/SL4/China/Beijing/2014/KF753806}
\Lf{d13}{975.4}{979.7}{998.5}{cK}{DAstV-2/SL2/China/Beijing/2014/KF753805}
\Lf{d14}{975.4}{979.7}{1013.1}{cK}{DAstV-2/SL5/China/Beijing/2014/KF753807}
\Lf{d15}{975.4}{979.7}{1027.6}{cK}{DAstV-2/SL1/China/Beijing/2014/KF753804}
\Vl{793.5}{931}{1004.4}\Hl{793.5}{927.6}{931}\Hl{793.5}{975.4}{1004.4}
% DAstV-4
\Vl{968}{1042.2}{1056.7}\Vl{965}{1049.5}{1071.3}\Hl{965}{968}{1049.5}
\Lf{d16}{968}{972.7}{1042.2}{cBl}{DAstV-4/Goose/China/Sichuan/2023/C1365}
\Lf{d17}{968}{972.7}{1056.7}{cBl}{DAstV-4/Goose/China/Sichuan/2023/C1388}
\Lf{d18}{965}{970.7}{1071.3}{cK}{DAstV-4/YP2/China/Beijing/2015/JX624774}
% CAstV
\Vl{981.7}{1085.9}{1100.4}\Vl{986.4}{1115.0}{1129.5}
\Vl{958.2}{1093.2}{1122.3}\Hl{958.2}{981.7}{1093.2}\Hl{958.2}{986.4}{1122.3}
\Lf{d19}{981.7}{991}{1085.9}{cK}{CAstV/CA-SK/18-0942/Canada/2020/MT789785}
\Lf{d20}{981.7}{991}{1100.4}{cK}{CAstV/CB-15-1262a/Canada/2020/MT789778}
\Lf{d21}{986.4}{989.5}{1115.0}{cK}{CAstV/GDYHJ718-6/China/Beijing/2018/MN725026}
\Lf{d22}{986.4}{989.5}{1129.5}{cK}{CAstV/HELP717-1/China/Beijing/2018/MN725025}
% DAstV-3
\Vl{962.9}{1158.6}{1231.4}\Vl{959}{1144.1}{1171}\Hl{959}{962.9}{1171}
\Lf{d23}{959}{964.8}{1144.1}{cK}{DAstV-3/CPH/China/Beijing/2014/KJ020899}
\Lf{d24}{962.9}{966.8}{1158.6}{cGr}{DAstV-3/Duck/China/Shandong/2022/Q3001}
\Lf{d25}{962.9}{966.8}{1173.2}{cGr}{DAstV-3/Goose/China/Shandong/2023/T221}
\Lf{d26}{962.9}{966.8}{1187.7}{cGr}{DAstV-3/Goose/China/Shandong/2023/T119}
\Lf{d27}{962.9}{966.8}{1202.3}{cGr}{DAstV-3/Goose/China/Sichuan/2023/C1350}
\Lf{d28}{962.9}{966.8}{1216.8}{cGr}{DAstV-3/Goose/China/Shandong/2023/T90}
\Lf{d29}{962.9}{966.8}{1231.4}{cGr}{DAstV-3/Goose/China/Shandong/2023/T129}
\Vl{839.4}{1107.7}{1157.6}\Hl{839.4}{958.2}{1107.7}\Hl{839.4}{959}{1157.6}
\Vl{793.5}{1060.4}{1132.6}\Hl{793.5}{965}{1060.4}\Hl{793.5}{839.4}{1132.6}
\Vl{777.9}{967.7}{1096.5}\Hl{777.9}{793.5}{967.7}\Hl{777.9}{793.5}{1096.5}
% DAstV-1
\Vl{961.5}{1245.9}{1260.5}\Vl{960}{1275.0}{1289.6}
\Vl{953.1}{1253.2}{1282.3}\Hl{953.1}{961.5}{1253.2}\Hl{953.1}{960}{1282.3}
\Lf{d30}{961.5}{965}{1245.9}{cK}{DAstV-1/SDWF/China/Shandong/2021/OL652659}
\Lf{d31}{961.5}{965}{1260.5}{cK}{DAstV-1/SDZZ/China/Beijing/2020/MW217578}
\Lf{d32}{960}{964}{1275.0}{cK}{DAstV-1/D17/China/Beijing/2020/MN149392}
\Lf{d33}{960}{964}{1289.6}{cK}{DAstV-1/D120/China/Beijing/2021/MN149393}
% TAstV
\Vl{962}{1304.1}{1318.7}
\Lf{d34}{962}{988.4}{1304.1}{cK}{TAstV/MN-01/USA/2012/EU143847}
\Lf{d35}{962}{988.4}{1318.7}{cK}{TAstV/USA/2018/NC005790}
\Vl{884.5}{1267.8}{1311.4}\Hl{884.5}{953.1}{1267.8}\Hl{884.5}{962}{1311.4}
% GoAstV-2
\Vl{950.3}{1333.3}{1478.8}
\Lf{d36}{950.3}{954.3}{1333.3}{cK}{GoAstV-2/ZJCX/China/Zhejiang/2021/ON745304}
\Lf{d37}{950.3}{954.3}{1347.8}{cRd}{GoAstV-2/Goose/China/Shandong/2022/Q2001}
\Lf{d38}{950.3}{954.3}{1362.4}{cK}{GoAstV-2/SD05/China/Shandong/2022/OP020131}
\Lf{d39}{950.3}{954.3}{1376.9}{cK}{GoAstV-2/HNXX-6/China/Henan/2020/MW592379}
\Lf{d40}{950.3}{954.3}{1391.5}{cK}{GoAstV-2/AHAU5/China/Anhui/2020/MN428645}
\Lf{d41}{950.3}{954.3}{1406.0}{cRd}{GoAstV-2/Goose/China/Shandong/2023/U50}
\Lf{d42}{950.3}{954.3}{1420.6}{cK}{GoAstV-2/XSSH/China/Zhejiang/2020/OL982613}
\Lf{d43}{950.3}{954.3}{1435.1}{cK}{GoAstV-2/AH-16/China/Anhui/2023/OP764611}
\Lf{d44}{950.3}{954.3}{1449.7}{cRd}{GoAstV-2/Goose/China/Shandong/2023/U52}
\Lf{d45}{950.3}{954.3}{1464.2}{cRd}{GoAstV-2/Goose/China/Shandong/2023/U56}
\Lf{d46}{950.3}{954.3}{1478.8}{cRd}{GoAstV-2/Goose/China/Shandong/2023/U61}
\Vl{831.6}{1289.6}{1383.7}\Hl{831.6}{884.5}{1289.6}\Hl{831.6}{950.3}{1383.7}
\Vl{771}{1032.1}{1336.7}\Hl{771}{777.9}{1032.1}\Hl{771}{831.6}{1336.7}
% ANV
\Vl{915}{1507.9}{1522.4}\Vl{898.2}{1493.3}{1515.2}\Hl{898.2}{915}{1515.2}
\Lf{d47}{898.2}{989.5}{1493.3}{cK}{ANV/Brazil/2018/MG846415}
\Lf{d48}{915}{997.4}{1507.9}{cK}{ANV/Japan/2000/AB033998}
\Lf{d49}{915}{997.4}{1522.4}{cK}{ANV/CHN/BJCP510-2/China/Beijing/2018/MN732558}
\Vl{704}{1184.4}{1504.3}\Hl{704}{771}{1184.4}\Hl{704}{898.2}{1504.3}
% bootstraps
\Bs{980.5}{824.5}{99}\Bs{980.5}{838.3}{30}\Bs{981.7}{856.5}{15}\Bs{980.5}{865.7}{94}\Bs{981.7}{873.7}{20}\Bs{980.5}{887.8}{32}\Bs{973.9}{904.5}{100}
\Bs{919}{924.4}{100}\Bs{937.4}{956.9}{89}\Bs{981.7}{967.8}{100}\Bs{784.5}{961.7}{68}\Bs{966.8}{1011.3}{100}\Bs{768}{1026}{40}
\Bs{961}{1042}{99}\Bs{954.3}{1053.5}{100}
\Bs{785.7}{1102.6}{78}\Bs{831.6}{1139.2}{99}
\Bs{972.7}{1085.5}{99}\Bs{949.2}{1101.5}{100}\Bs{976.6}{1127.8}{100}
\Bs{951}{1164.3}{100}\Bs{953}{1178}{97}\Bs{957}{1193}{29}\Bs{958}{1205.5}{14}\Bs{958}{1218}{15}\Bs{958}{1230.6}{50}
\Bs{953}{1246}{99}\Bs{943.3}{1260.3}{100}\Bs{951}{1287.8}{99}
\Bs{876.6}{1283.2}{100}\Bs{951}{1316.3}{100}\Bs{823.7}{1343.7}{99}
\Bs{945.2}{1334.1}{65}\Bs{945.2}{1345.5}{87}\Bs{945.2}{1376.9}{45}\Bs{939.4}{1389.4}{100}\Bs{945.2}{1421.4}{60}
\Bs{945.2}{1435.1}{71}\Bs{945.2}{1445.4}{60}\Bs{945.2}{1462.6}{80}\Bs{945.2}{1477.4}{63}
\Bs{889}{1510.5}{100}\Bs{906}{1522}{83}
% clades
\Cl{kD1}{1243}{819.3}{973.5}{1250}{895.8}{GoAstV-1}
\Cl{kD2}{1243}{979.3}{1030.7}{1250}{1004.4}{DAstV-2}
\Cl{kD3}{1243}{1037}{1077.5}{1250}{1055.8}{DAstV-4}
\Cl{kD4}{1243}{1082}{1133.5}{1250}{1108}{CAstV}
\Cl{kD5}{1243}{1140.4}{1235.2}{1250}{1187.2}{DAstV-3}
\Cl{kD6}{1243}{1242}{1293.5}{1250}{1267.2}{DAstV-1}
\Cl{kD7}{1243}{1300.3}{1323.2}{1250}{1309.5}{TAstV}
\Cl{kD8}{1243}{1330}{1483}{1250}{1406.6}{GoAstV-2}
\Cl{kD9}{1243}{1488.8}{1525.4}{1250}{1512.8}{ANV}
% scale
\draw[sb] (741.4,1544.8) -- (795.1,1544.8);\draw[sb] (741.4,1541.3) -- (741.4,1548.3);\draw[sb] (795.1,1541.3) -- (795.1,1548.3);
\node[sbl] (sD) at (768,1552) {0.50};
\end{scope}
\end{tikzpicture}
\end{document}
